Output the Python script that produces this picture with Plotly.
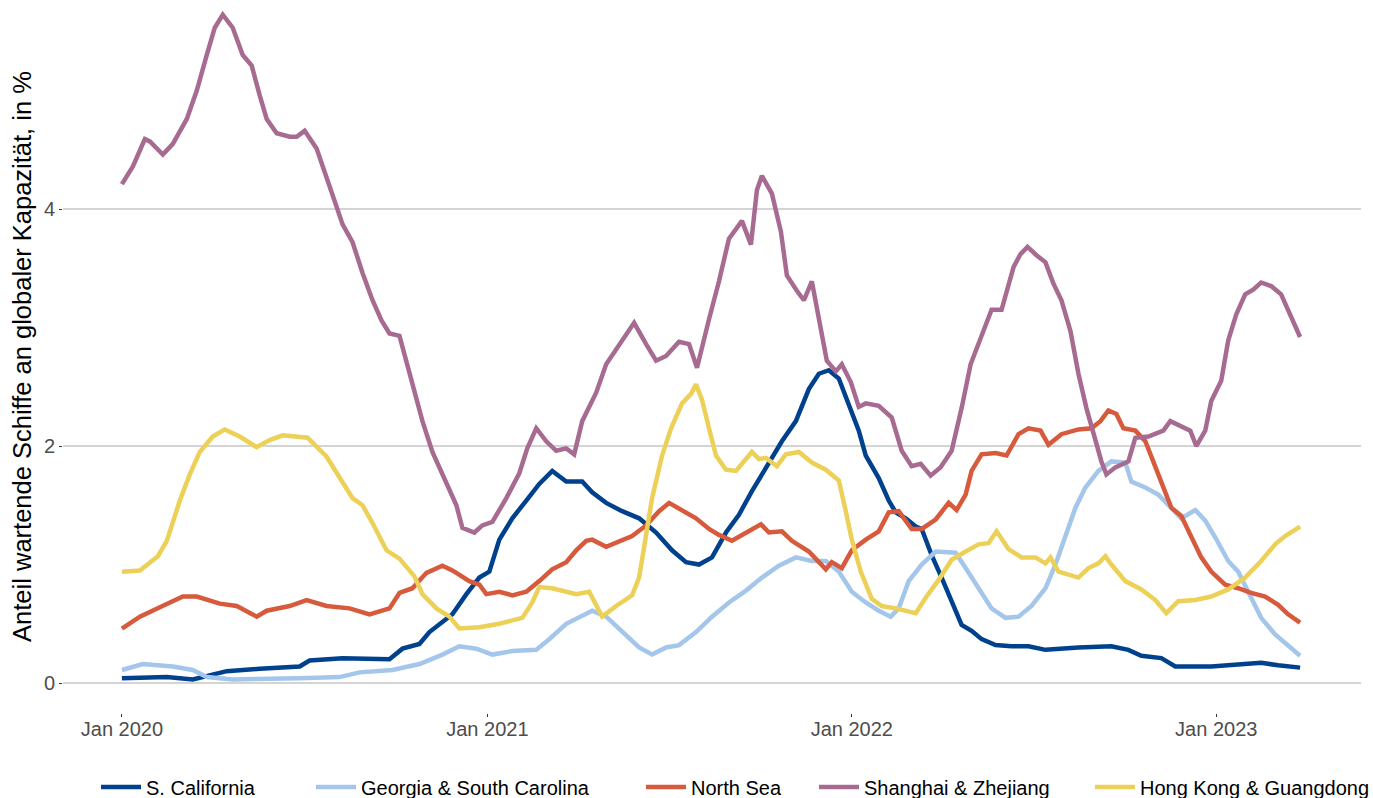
import pandas as pd
import plotly.graph_objects as go

# days since 2020-01-01
socal_days = [0, 45, 71, 105, 138, 178, 188, 221, 268, 281, 298, 308, 331, 345, 358, 368, 378, 391,
              405, 418, 431, 445, 461, 471, 485, 501, 518, 535, 551, 565, 578, 591, 605, 618, 631,
              648, 661, 675, 688, 698, 708, 718, 728, 738, 745, 758, 768, 775, 785, 795, 801, 811,
              821, 831, 841, 851, 861, 875, 891, 908, 925, 958, 991, 1008, 1021, 1041, 1055, 1091,
              1108, 1141, 1158, 1180]
socal_vals = [0.04, 0.05, 0.03, 0.10, 0.12, 0.14, 0.19, 0.21, 0.20, 0.29, 0.33, 0.43, 0.58, 0.75,
              0.89, 0.94, 1.21, 1.39, 1.54, 1.68, 1.79, 1.70, 1.70, 1.61, 1.52, 1.45, 1.39, 1.27,
              1.12, 1.02, 1.00, 1.06, 1.27, 1.42, 1.62, 1.86, 2.04, 2.21, 2.48, 2.61, 2.64, 2.57,
              2.36, 2.13, 1.92, 1.73, 1.54, 1.44, 1.39, 1.32, 1.30, 1.08, 0.89, 0.69, 0.49, 0.44,
              0.37, 0.32, 0.31, 0.31, 0.28, 0.30, 0.31, 0.28, 0.23, 0.21, 0.14, 0.14, 0.15, 0.17,
              0.15, 0.13]

georgia_days = [0, 21, 51, 71, 85, 111, 178, 218, 238, 271, 298, 321, 338, 355, 371, 391, 415, 428,
                445, 458, 471, 485, 501, 518, 531, 545, 558, 575, 591, 608, 625, 641, 658, 675, 691,
                705, 718, 731, 745, 758, 770, 778, 788, 801, 815, 835, 845, 858, 871, 885, 898, 911,
                925, 935, 945, 955, 965, 978, 991, 1005, 1011, 1025, 1038, 1051, 1061, 1075, 1085,
                1095, 1108, 1118, 1128, 1141, 1155, 1168, 1180]
georgia_vals = [0.11, 0.16, 0.14, 0.11, 0.05, 0.03, 0.04, 0.05, 0.09, 0.11, 0.16, 0.24, 0.31, 0.29,
                0.24, 0.27, 0.28, 0.37, 0.50, 0.56, 0.61, 0.56, 0.43, 0.30, 0.24, 0.30, 0.32, 0.43,
                0.56, 0.68, 0.78, 0.89, 0.99, 1.06, 1.03, 1.03, 0.94, 0.77, 0.68, 0.61, 0.56, 0.63,
                0.86, 1.00, 1.11, 1.10, 0.97, 0.80, 0.63, 0.55, 0.56, 0.65, 0.80, 1.00, 1.25, 1.48,
                1.65, 1.79, 1.87, 1.86, 1.70, 1.65, 1.59, 1.48, 1.39, 1.46, 1.37, 1.23, 1.03, 0.94,
                0.77, 0.55, 0.41, 0.31, 0.23]

northsea_days = [0, 18, 38, 61, 75, 98, 115, 135, 145, 168, 185, 205, 228, 248, 268, 278, 291, 305,
                 321, 331, 348, 358, 365, 378, 391, 405, 418, 431, 445, 455, 465, 471, 485, 498, 511,
                 525, 538, 548, 561, 575, 588, 598, 611, 625, 640, 648, 661, 671, 688, 705, 711, 721,
                 731, 745, 758, 768, 778, 791, 801, 815, 828, 836, 845, 851, 861, 875, 886, 898, 908,
                 920, 928, 941, 958, 971, 980, 988, 996, 1003, 1015, 1025, 1035, 1045, 1051, 1061,
                 1071, 1081, 1091, 1105, 1118, 1131, 1145, 1158, 1168, 1180]
northsea_vals = [0.46, 0.56, 0.64, 0.73, 0.73, 0.67, 0.65, 0.56, 0.61, 0.65, 0.70, 0.65, 0.63, 0.58,
                 0.63, 0.76, 0.80, 0.93, 0.99, 0.95, 0.86, 0.83, 0.75, 0.77, 0.74, 0.77, 0.86, 0.96,
                 1.02, 1.12, 1.20, 1.21, 1.15, 1.20, 1.24, 1.33, 1.45, 1.52, 1.46, 1.39, 1.30, 1.25,
                 1.20, 1.27, 1.34, 1.27, 1.28, 1.20, 1.11, 0.96, 1.02, 0.97, 1.12, 1.21, 1.28, 1.44,
                 1.45, 1.30, 1.30, 1.38, 1.52, 1.46, 1.59, 1.79, 1.93, 1.94, 1.92, 2.10, 2.15, 2.13,
                 2.01, 2.10, 2.14, 2.15, 2.21, 2.30, 2.27, 2.15, 2.13, 2.04, 1.82, 1.62, 1.48, 1.41,
                 1.23, 1.06, 0.94, 0.83, 0.80, 0.76, 0.73, 0.66, 0.58, 0.51]

shanghai_days = [0, 11, 23, 28, 41, 51, 65, 75, 85, 93, 101, 111, 121, 130, 138, 145, 155, 168, 175,
                 183, 195, 205, 215, 221, 231, 241, 251, 260, 268, 278, 285, 293, 301, 311, 325, 335,
                 341, 353, 361, 371, 385, 398, 406, 415, 425, 435, 445, 453, 461, 475, 485, 498, 513,
                 525, 535, 545, 558, 568, 576, 588, 598, 608, 621, 630, 636, 641, 651, 660, 666, 676,
                 683, 691, 698, 706, 715, 721, 730, 738, 745, 758, 771, 781, 791, 800, 810, 820, 831,
                 841, 850, 858, 871, 881, 893, 900, 907, 916, 925, 933, 941, 950, 958, 966, 975, 981,
                 986, 995, 1008, 1015, 1028, 1043, 1050, 1058, 1070, 1076, 1085, 1091, 1101, 1108,
                 1116, 1125, 1133, 1141, 1151, 1161, 1168, 1180]
shanghai_vals = [4.21, 4.36, 4.59, 4.57, 4.46, 4.55, 4.76, 5.00, 5.30, 5.53, 5.64, 5.53, 5.30, 5.21,
                 4.96, 4.76, 4.64, 4.61, 4.61, 4.66, 4.51, 4.25, 4.02, 3.87, 3.72, 3.46, 3.23, 3.06,
                 2.95, 2.93, 2.70, 2.44, 2.21, 1.95, 1.69, 1.50, 1.31, 1.27, 1.33, 1.36, 1.56, 1.77,
                 1.98, 2.15, 2.04, 1.96, 1.98, 1.93, 2.21, 2.45, 2.69, 2.86, 3.04, 2.86, 2.72, 2.76,
                 2.88, 2.86, 2.66, 3.07, 3.39, 3.75, 3.90, 3.70, 4.16, 4.28, 4.13, 3.81, 3.44, 3.31,
                 3.23, 3.39, 3.07, 2.72, 2.63, 2.69, 2.54, 2.33, 2.36, 2.34, 2.24, 1.96, 1.83, 1.85,
                 1.75, 1.82, 1.96, 2.32, 2.69, 2.86, 3.15, 3.15, 3.51, 3.62, 3.68, 3.61, 3.55, 3.37,
                 3.23, 2.97, 2.61, 2.32, 2.04, 1.87, 1.76, 1.82, 1.87, 2.07, 2.08, 2.13, 2.21, 2.18,
                 2.13, 2.00, 2.13, 2.38, 2.55, 2.89, 3.11, 3.28, 3.32, 3.38, 3.35, 3.28, 3.14, 2.92]

hongkong_days = [0, 18, 36, 45, 58, 68, 78, 91, 103, 118, 135, 148, 161, 186, 205, 218, 231, 241,
                 251, 265, 278, 293, 301, 315, 328, 338, 358, 378, 401, 411, 418, 431, 455, 468, 475,
                 481, 495, 511, 518, 525, 531, 541, 550, 561, 570, 575, 581, 588, 595, 605, 615, 625,
                 631, 638, 645, 656, 665, 678, 691, 705, 718, 725, 731, 740, 751, 761, 775, 795, 805,
                 818, 831, 845, 858, 868, 876, 888, 901, 915, 925, 930, 938, 958, 968, 978, 985, 991,
                 1005, 1021, 1035, 1046, 1058, 1075, 1091, 1108, 1125, 1141, 1155, 1165, 1180]
hongkong_vals = [0.94, 0.95, 1.07, 1.20, 1.54, 1.76, 1.95, 2.08, 2.14, 2.08, 1.99, 2.05, 2.09, 2.07,
                 1.91, 1.73, 1.56, 1.50, 1.35, 1.12, 1.05, 0.90, 0.75, 0.63, 0.56, 0.46, 0.47, 0.50,
                 0.55, 0.68, 0.81, 0.80, 0.75, 0.77, 0.65, 0.56, 0.65, 0.74, 0.89, 1.24, 1.56, 1.92,
                 2.15, 2.36, 2.44, 2.52, 2.39, 2.15, 1.92, 1.80, 1.79, 1.89, 1.95, 1.89, 1.90, 1.83,
                 1.93, 1.95, 1.86, 1.80, 1.71, 1.45, 1.21, 0.94, 0.71, 0.65, 0.63, 0.59, 0.72, 0.87,
                 1.04, 1.11, 1.17, 1.18, 1.28, 1.13, 1.06, 1.06, 1.01, 1.06, 0.94, 0.89, 0.97, 1.01,
                 1.07, 1.00, 0.86, 0.79, 0.70, 0.59, 0.69, 0.70, 0.73, 0.79, 0.89, 1.03, 1.17, 1.24,
                 1.32]

tick_dates = ["2020-01-01", "2021-01-01", "2022-01-01", "2023-01-01"]
tick_labels = ["Jan 2020", "Jan 2021", "Jan 2022", "Jan 2023"]

start = pd.Timestamp("2020-01-01")


def to_dates(days):
    return start + pd.to_timedelta(days, unit="D")


# name, days, values, colour, legend left edge (px in the 1373 px page)
series = [
    ("S. California", socal_days, socal_vals, "#00418d", 96),
    ("Georgia & South Carolina", georgia_days, georgia_vals, "#a4c6eb", 311),
    ("North Sea", northsea_days, northsea_vals, "#d65a3b", 641),
    ("Shanghai & Zhejiang", shanghai_days, shanghai_vals, "#a76b92", 814),
    ("Hong Kong & Guangdong", hongkong_days, hongkong_vals, "#ecd057", 1090),
]

W, H = 1373, 798
fig = go.Figure()
legends = {}
for i, (name, days, vals, color, lx) in enumerate(series):
    key = "legend" if i == 0 else f"legend{i + 1}"
    fig.add_trace(go.Scatter(x=to_dates(days), y=vals, mode="lines", name=name, legend=key,
                             line=dict(color=color, width=4.5)))
    legends[key] = dict(orientation="h", xref="container", yref="container",
                        x=lx / W, xanchor="left", y=1 - 787 / H, yanchor="middle",
                        font=dict(size=20, color="#000000"), bgcolor="rgba(0,0,0,0)",
                        itemwidth=40)

fig.update_layout(
    width=W, height=H,
    margin=dict(l=63, r=12, t=0, b=85),
    plot_bgcolor="white", paper_bgcolor="white",
    font=dict(family="Liberation Sans, Arial, sans-serif", color="#000000"),
    showlegend=True,
    **legends,
)
fig.update_xaxes(
    range=["2019-11-03", "2023-05-26"], showgrid=False, zeroline=False, showline=False,
    tickmode="array", tickvals=tick_dates, ticktext=tick_labels,
    ticks="outside", ticklen=3, tickcolor="#333333", ticklabelstandoff=-5,
    tickfont=dict(size=20, color="#4d4d4d"),
)
fig.update_yaxes(
    range=[-0.253, 5.764], tickvals=[0, 2, 4], showgrid=True, gridcolor="#d4d4d4", gridwidth=1.5,
    zeroline=False, showline=False, ticks="outside", ticklen=3, tickcolor="#333333",
    tickfont=dict(size=20, color="#4d4d4d"),
    title=dict(text="Anteil wartende Schiffe an globaler Kapazität, in %",
               font=dict(size=25.5, color="#000000"), standoff=4),
)

fig.write_html("out.html", config={"displayModeBar": False},
               post_script="document.body.style.margin='0';")
